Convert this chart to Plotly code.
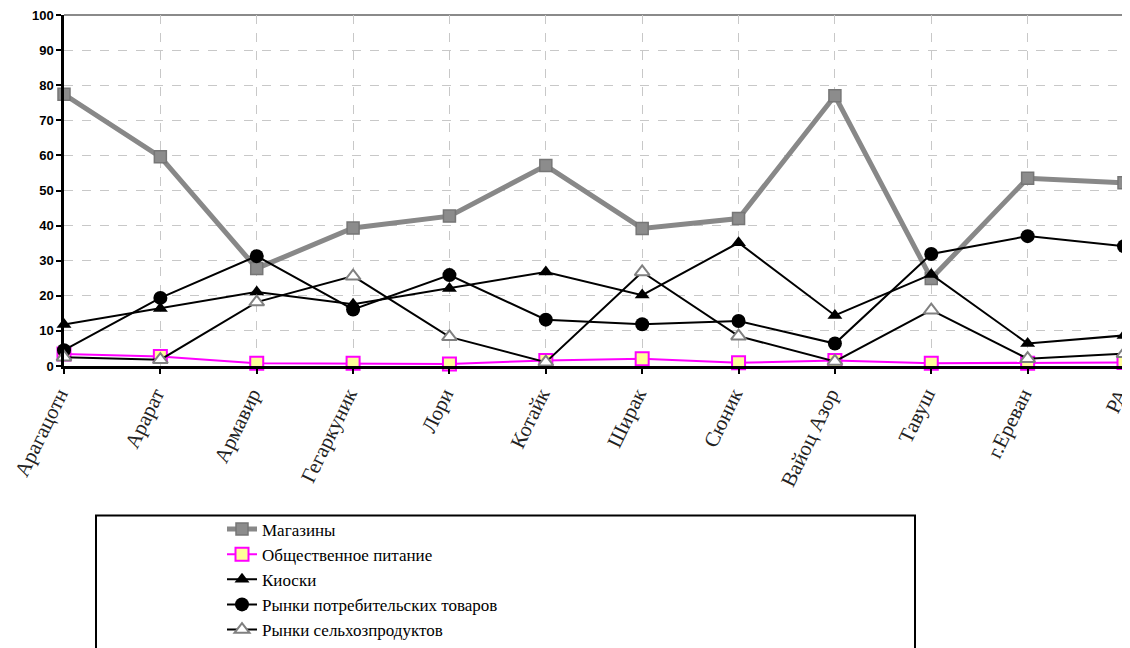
import plotly.graph_objects as go

categories = ["Арагацотн", "Арарат", "Армавир", "Гегаркуник", "Лори", "Котайк",
              "Ширак", "Сюник", "Вайоц Азор", "Тавуш", "г.Ереван", "РА"]

magaziny = [77.4, 59.6, 27.8, 39.3, 42.7, 57.1, 39.2, 42.0, 77.0, 24.9, 53.5, 52.2]
obshch_pitanie = [3.4, 2.7, 0.8, 0.8, 0.6, 1.6, 2.1, 0.9, 1.6, 0.8, 0.8, 1.0]
kioski = [11.8, 16.4, 21.1, 17.6, 22.1, 26.8, 20.2, 35.1, 14.4, 26.1, 6.4, 8.7]
rynki_potreb = [4.5, 19.4, 31.3, 16.1, 25.9, 13.2, 11.9, 12.8, 6.4, 31.9, 37.0, 34.1]
rynki_selkhoz = [2.5, 1.8, 18.2, 25.6, 8.3, 1.1, 26.8, 8.5, 1.3, 15.9, 2.1, 3.5]

y_ticks = [0, 10, 20, 30, 40, 50, 60, 70, 80, 90, 100]

fig = go.Figure()
fig.add_trace(go.Scatter(
    x=categories, y=magaziny, name="Магазины", mode="lines+markers",
    line=dict(color="#888888", width=5),
    marker=dict(symbol="square", size=12, color="#8c8c8c", line=dict(color="#767676", width=1.5)),
    cliponaxis=False))
fig.add_trace(go.Scatter(
    x=categories, y=obshch_pitanie, name="Общественное питание", mode="lines+markers",
    line=dict(color="#ff00ff", width=2),
    marker=dict(symbol="square", size=13, color="#ffff99", line=dict(color="#ff00ff", width=2)),
    cliponaxis=False))
fig.add_trace(go.Scatter(
    x=categories, y=kioski, name="Киоски", mode="lines+markers",
    line=dict(color="#000000", width=2),
    marker=dict(symbol="triangle-up", size=13, color="#000000"),
    cliponaxis=False))
fig.add_trace(go.Scatter(
    x=categories, y=rynki_potreb, name="Рынки потребительских товаров", mode="lines+markers",
    line=dict(color="#000000", width=2),
    marker=dict(symbol="circle", size=14, color="#000000"),
    cliponaxis=False))
fig.add_trace(go.Scatter(
    x=categories, y=rynki_selkhoz, name="Рынки сельхозпродуктов", mode="lines+markers",
    line=dict(color="#000000", width=2),
    marker=dict(symbol="triangle-up", size=13, color="#ffffff", line=dict(color="#808080", width=2)),
    cliponaxis=False))

# plot area in screen pixels (page has an 8px body margin)
PW, PH, PL, PB = 1060.0, 350.6, 64.0, 365.6

def px_x(x):
    return (x - PL) / PW

def px_y(y):
    return (PB - y) / PH

# frame: top and right gray borders
fig.add_shape(type="line", xref="paper", yref="paper", x0=0, x1=1, y0=1, y1=1,
              line=dict(color="#8a8a8a", width=2), layer="below")
fig.add_shape(type="line", xref="paper", yref="paper", x0=1, x1=1, y0=0, y1=1,
              line=dict(color="#8a8a8a", width=2), layer="below")
# legend box
fig.add_shape(type="rect", xref="paper", yref="paper",
              x0=px_x(96), x1=px_x(915), y0=px_y(700), y1=px_y(515),
              line=dict(color="#000000", width=2), fillcolor="rgba(0,0,0,0)")

fig.update_layout(
    width=1130, height=640,
    margin=dict(l=56, r=14, t=7, b=282.4, autoexpand=False),
    paper_bgcolor="white", plot_bgcolor="white",
    showlegend=True,
    legend=dict(
        x=px_x(222), y=px_y(511), xanchor="left", yanchor="top",
        font=dict(family="Liberation Serif", size=17, color="#000000"),
        bgcolor="rgba(0,0,0,0)", borderwidth=0, tracegroupgap=0,
    ),
    xaxis=dict(
        type="category", range=[0, 11],
        showline=True, linecolor="#000000", linewidth=2.5,
        ticks="outside", ticklen=5, tickcolor="#000000", tickwidth=1.5,
        tickangle=-64, ticklabeloverflow="allow", ticklabelshift=-5,
        tickfont=dict(family="Liberation Serif", size=21, color="#222222"),
        showgrid=True, gridcolor="#c8c8c8", griddash="dash", gridwidth=1,
        zeroline=False,
    ),
    yaxis=dict(
        range=[0, 100], tickvals=y_ticks, ticklabeloverflow="allow",
        showline=True, linecolor="#000000", linewidth=2.5,
        ticks="outside", ticklen=5, tickcolor="#000000", tickwidth=1.5,
        tickfont=dict(family="Liberation Sans", size=13, color="#000000", weight="bold"),
        showgrid=True, gridcolor="#c8c8c8", griddash="dash", gridwidth=1,
        zeroline=False,
    ),
)

fig.write_html("out.html")
